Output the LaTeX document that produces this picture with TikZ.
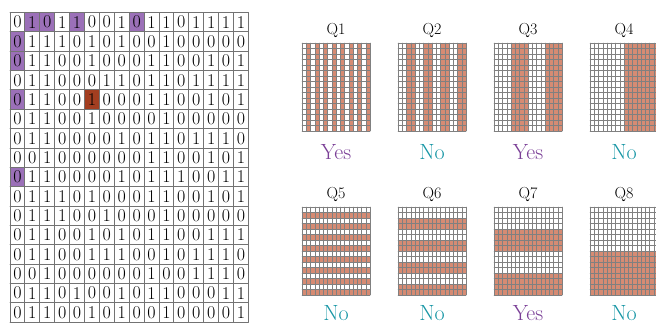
\documentclass[tikz,border=0pt]{standalone}
\usepackage{tikz}

\definecolor{checkpurple}{RGB}{155,112,184}
\definecolor{errorbrown}{RGB}{163,62,32}
\definecolor{stripe}{RGB}{214,139,115}
\definecolor{yescol}{RGB}{122,62,150}
\definecolor{nocol}{RGB}{23,150,165}

\tikzset{
  digit/.style={inner sep=0pt, font=\fontsize{18}{18}\selectfont},
  boardline/.style={black!55, line width=0.9pt},
  cellline/.style={gray, line width=0.4pt},
  qlabel/.style={inner sep=0pt, font=\fontsize{16}{16}\selectfont},
  yesno/.style={inner sep=0pt, font=\fontsize{22}{22}\selectfont},
}

\begin{document}
\begin{tikzpicture}[x=1pt, y=-1pt, line cap=round]
  \useasboundingbox (0,0) rectangle (656,324);
  \def\boardx{10} \def\boardy{12.5} \def\cellw{14.9} \def\cellh{19.35}

  % ---------------- board (left) ----------------
  \foreach \r/\c/\hl in {0/1/checkpurple,0/2/checkpurple,0/4/checkpurple,0/8/checkpurple,
                         1/0/checkpurple,2/0/checkpurple,4/0/checkpurple,8/0/checkpurple,
                         4/5/errorbrown}
    \fill[\hl] ({\boardx+\c*\cellw},{\boardy+\r*\cellh}) rectangle ++(\cellw,\cellh);
  \foreach \i in {0,...,16}{
    \draw[boardline] ({\boardx+\i*\cellw},\boardy) -- ++(0,{16*\cellh});
    \draw[boardline] (\boardx,{\boardy+\i*\cellh}) -- ++({16*\cellw},0);
  }
  \foreach \row [count=\r from 0] in {
      {0,1,0,1,1,0,0,1,0,1,1,0,1,1,1,1},
      {0,1,1,1,0,1,0,1,0,0,1,0,0,0,0,0},
      {0,1,1,0,0,1,0,0,0,1,1,0,0,1,0,1},
      {0,1,1,0,0,0,1,1,0,1,1,0,1,1,1,1},
      {0,1,1,0,0,1,0,0,0,1,1,0,0,1,0,1},
      {0,1,1,0,0,1,0,0,0,0,1,0,0,0,0,0},
      {0,1,1,0,0,0,0,1,0,1,1,0,1,1,1,0},
      {0,0,1,0,0,0,0,0,0,1,1,0,0,1,0,1},
      {0,1,1,0,0,0,0,1,0,1,1,1,0,0,1,1},
      {0,1,1,1,0,1,0,0,0,1,1,0,0,1,0,1},
      {0,1,1,1,0,0,1,0,0,0,1,0,0,0,0,0},
      {0,1,1,0,0,1,0,1,0,1,1,0,0,1,1,1},
      {0,1,1,0,0,1,1,1,0,0,1,0,1,1,1,0},
      {0,0,1,0,0,0,0,0,0,1,0,0,1,1,1,0},
      {0,1,1,0,1,0,0,1,0,1,1,0,0,0,1,1},
      {0,1,1,0,0,1,0,1,0,0,1,0,0,0,0,1}}{
    \foreach \d [count=\c from 0] in \row
      \node[digit] (b-\r-\c) at ({\boardx+(\c+0.5)*\cellw},{\boardy+(\r+0.5)*\cellh}) {\d};
  }

  % ---------------- questions (right) ----------------
  \foreach \k/\gx/\gy/\iscol/\w/\ans/\anscol/\ay in {
      1/302/43/1/1/Yes/yescol/152, 2/398/43/1/2/No/nocol/152, 3/494/43/1/4/Yes/yescol/152, 4/590/43/1/8/No/nocol/152,
      5/302/207/0/1/No/nocol/313,  6/398/207/0/2/No/nocol/313, 7/494/207/0/4/Yes/yescol/313, 8/590/207/0/8/No/nocol/313}{
    \foreach \i in {0,...,15}{
      \pgfmathtruncatemacro\bit{mod(floor(\i/\w),2)}
      \ifnum\bit=1
        \ifnum\iscol=1
          \fill[stripe] ({\gx+\i*4.25},\gy) rectangle ++(4.25,88);
        \else
          \fill[stripe] (\gx,{\gy+\i*5.5}) rectangle ++(68,5.5);
        \fi
      \fi
    }
    \foreach \i in {0,...,16}{
      \draw[cellline] ({\gx+\i*4.25},\gy) -- ++(0,88);
      \draw[cellline] (\gx,{\gy+\i*5.5}) -- ++(68,0);
    }
    \node[qlabel] (q\k) at ({\gx+34},{\gy-13}) {Q\k};
    \node[yesno, text=\anscol] (a\k) at ({\gx+34},\ay) {\ans};
  }
\end{tikzpicture}
\end{document}
